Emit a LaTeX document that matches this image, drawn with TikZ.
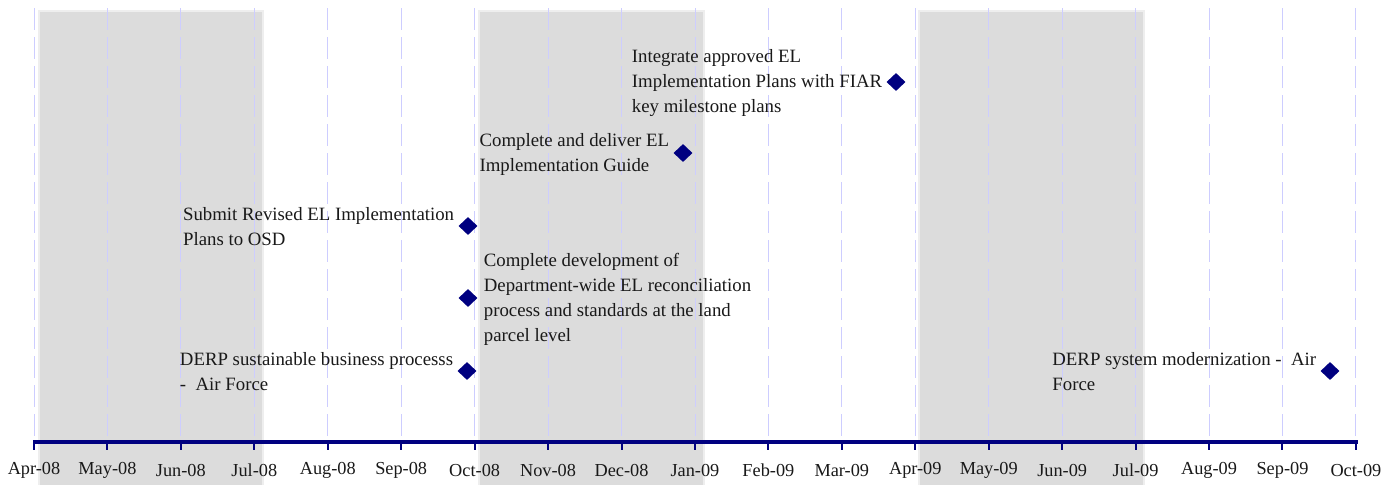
\documentclass[tikz,border=0pt]{standalone}
\usepackage{fontspec}
\setmainfont{Liberation Serif}
\usetikzlibrary{shapes.geometric}
\definecolor{bandgray}{RGB}{220,220,220}
\definecolor{bandedge}{RGB}{238,238,238}
\definecolor{gridblue}{RGB}{205,205,255}
\definecolor{navy}{RGB}{0,0,128}
\definecolor{txt}{RGB}{25,25,25}
\tikzset{
  band/.style={fill=bandgray, draw=none},
  bandsoft/.style={fill=bandedge, draw=none},
  gridline/.style={draw=gridblue, line width=0.9pt, dash pattern=on 22pt off 7pt},
  axisline/.style={draw=navy, line width=3.2pt},
  tickline/.style={draw=navy, line width=2pt},
  milestone/.style={diamond, fill=navy, draw=none, minimum width=19pt, minimum height=18pt, inner sep=0pt},
  lbl/.style={font=\fontsize{18.8}{25}\selectfont, text=txt, align=left, inner sep=0pt},
  monthlbl/.style={font=\fontsize{18.3}{22}\selectfont, text=txt, inner sep=0pt},
}
\begin{document}
\begin{tikzpicture}[x=1pt,y=-1pt]
\useasboundingbox (0,0) rectangle (1398,485);
\fill[white] (0,0) rectangle (1398,485);
% shaded bands
\foreach \a/\b in {40/262, 480/703, 920/1143}{
  \fill[bandsoft] (\a-2,10) rectangle (\b+2,485);
  \fill[band] (\a,12) rectangle (\b,485);
}
% grid lines
\foreach \i in {0,...,18}{
  \draw[gridline] (34+\i*73.44,8) -- (34+\i*73.44,441);
}
% axis
\draw[axisline] (33,442) -- (1358,442);
\foreach \i in {0,...,18}{
  \draw[tickline] (34+\i*73.44,441) -- (34+\i*73.44,449.5);
}
\foreach \m [count=\i from 0] in {Apr-08,May-08,Jun-08,Jul-08,Aug-08,Sep-08,Oct-08,Nov-08,Dec-08,Jan-09,Feb-09,Mar-09,Apr-09,May-09,Jun-09,Jul-09,Aug-09,Sep-09,Oct-09}{
  \node[monthlbl] (m\i) at (34+\i*73.44,470) {\m};
}
% milestones
\node[milestone] (d1) at (896,82) {};
\node[milestone] (d2) at (683,153) {};
\node[milestone] (d3) at (468,226) {};
\node[milestone] (d4) at (468,298) {};
\node[milestone] (d5) at (467,371) {};
\node[milestone] (d6) at (1330,371) {};
\node[lbl, anchor=east] (t1) at ([xshift=-4pt,yshift=-1pt]d1.west) {Integrate approved EL\\Implementation Plans with FIAR\\key milestone plans};
\node[lbl, anchor=east] (t2) at ([xshift=-4pt,yshift=-1pt]d2.west) {Complete and deliver EL\\Implementation Guide};
\node[lbl, anchor=east] (t3) at ([xshift=-4pt,yshift=-1pt]d3.west) {Submit Revised EL Implementation\\Plans to OSD};
\node[lbl, anchor=west] (t4) at ([xshift=6pt,yshift=-1pt]d4.east) {Complete development of\\Department-wide EL reconciliation\\process and standards at the land\\parcel level};
\node[lbl, anchor=east] (t5) at ([xshift=-4pt,yshift=-1pt]d5.west) {DERP sustainable business processs\\-~ Air Force};
\node[lbl, anchor=east] (t6) at ([xshift=-4pt,yshift=-1pt]d6.west) {DERP system modernization -~ Air\\Force};
\end{tikzpicture}
\end{document}
